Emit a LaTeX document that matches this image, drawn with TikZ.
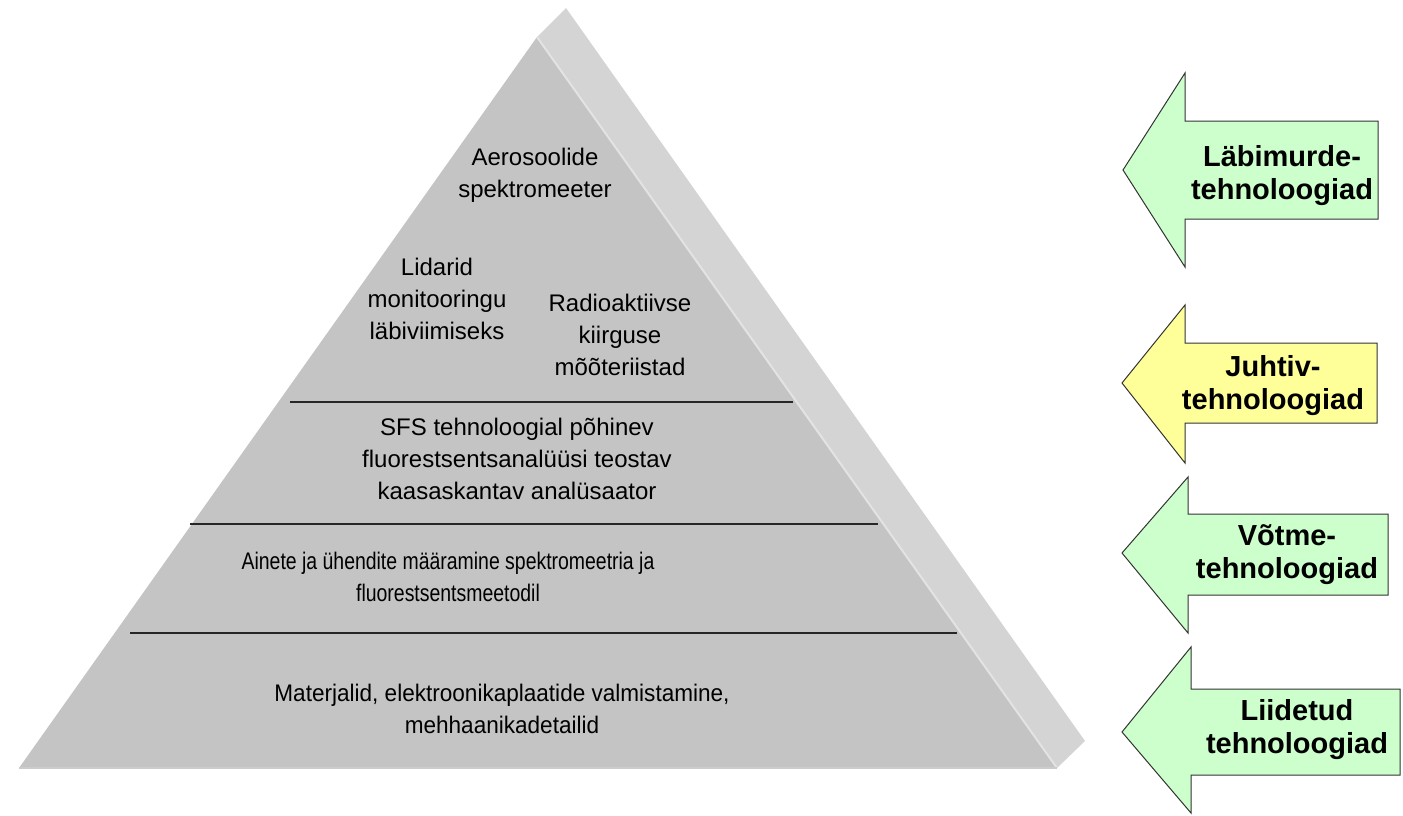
\documentclass[tikz,border=0pt]{standalone}
\usepackage{fontspec}
\setmainfont{Liberation Sans}
\usetikzlibrary{positioning}
\definecolor{frontgray}{HTML}{C4C4C4}
\definecolor{sidegray}{HTML}{D4D4D4}
\definecolor{ridgegray}{HTML}{E3E3E3}
\definecolor{mintgreen}{HTML}{CCFFCC}
\definecolor{paleyellow}{HTML}{FFFF99}
\tikzset{
  layertext/.style={align=center,inner sep=0pt,font=\fontsize{12}{16}\selectfont},
  arrowtext/.style={align=center,inner sep=0pt,font=\bfseries\fontsize{14.5}{16.5}\selectfont},
  layerline/.style={line width=0.8pt,draw=black!85},
  techarrow/.style={draw=black!80,line width=0.5pt}
}
\newcommand{\squeezed}[2]{\scalebox{#1}[1]{\begin{tabular}{@{}c@{}}#2\end{tabular}}}

\begin{document}
\begin{tikzpicture}[x=0.5pt,y=-0.5pt]
\useasboundingbox (0,0) rectangle (1403,815);
% pyramid: side face, front face, ridge
\fill[sidegray](537,37)--(566,8)--(1085,741)--(1057,768)--cycle;
\fill[frontgray](537,37)--(1057,768)--(19,768)--cycle;
\draw[ridgegray,line width=1pt](537,37)--(1057,768);
\draw[black!20,line width=0.6pt](19,768)--(1057,768);
% layer borders
\draw[layerline](290,402)--(793,402);
\draw[layerline](190,524)--(878,524);
\draw[layerline](130,633)--(957,633);
% layer texts
\node[layertext](aero) at (535,175){Aerosoolide\\spektromeeter};
\node[layertext](lidar) at (437,299){Lidarid\\monitooringu\\läbiviimiseks};
\node[layertext](radio) at (620,335){Radioaktiivse\\kiirguse\\mõõteriistad};
\node[layertext](sfs) at (517,459){SFS tehnoloogial põhinev\\fluorestsentsanalüüsi teostav\\kaasaskantav analüsaator};
\node[layertext](ained) at (448,579){\squeezed{0.81}{Ainete ja ühendite määramine spektromeetria ja\\fluorestsentsmeetodil}};
\node[layertext](mater) at (502,711){\squeezed{0.94}{Materjalid, elektroonikaplaatide valmistamine,\\mehhaanikadetailid}};
% arrows on the right
\draw[techarrow,fill=mintgreen](1123,170)--(1185,73)--(1185,121)--(1378,121)--(1378,219)--(1185,219)--(1185,267)--cycle;
\draw[techarrow,fill=paleyellow](1122,383)--(1185,305)--(1185,343)--(1377,343)--(1377,423)--(1185,423)--(1185,463)--cycle;
\draw[techarrow,fill=mintgreen](1122,553)--(1188,477)--(1188,514)--(1388,514)--(1388,595)--(1188,595)--(1188,633)--cycle;
\draw[techarrow,fill=mintgreen](1122,732)--(1191,647)--(1191,689)--(1400,689)--(1400,775)--(1191,775)--(1191,813)--cycle;
\node[arrowtext](breakthrough) at (1282,176){Läbimurde-\\tehnoloogiad};
\node[arrowtext](leading) at (1273,386){Juhtiv-\\tehnoloogiad};
\node[arrowtext](key) at (1287,555){Võtme-\\tehnoloogiad};
\node[arrowtext](merged) at (1297,730){Liidetud\\tehnoloogiad};
\end{tikzpicture}
\end{document}
